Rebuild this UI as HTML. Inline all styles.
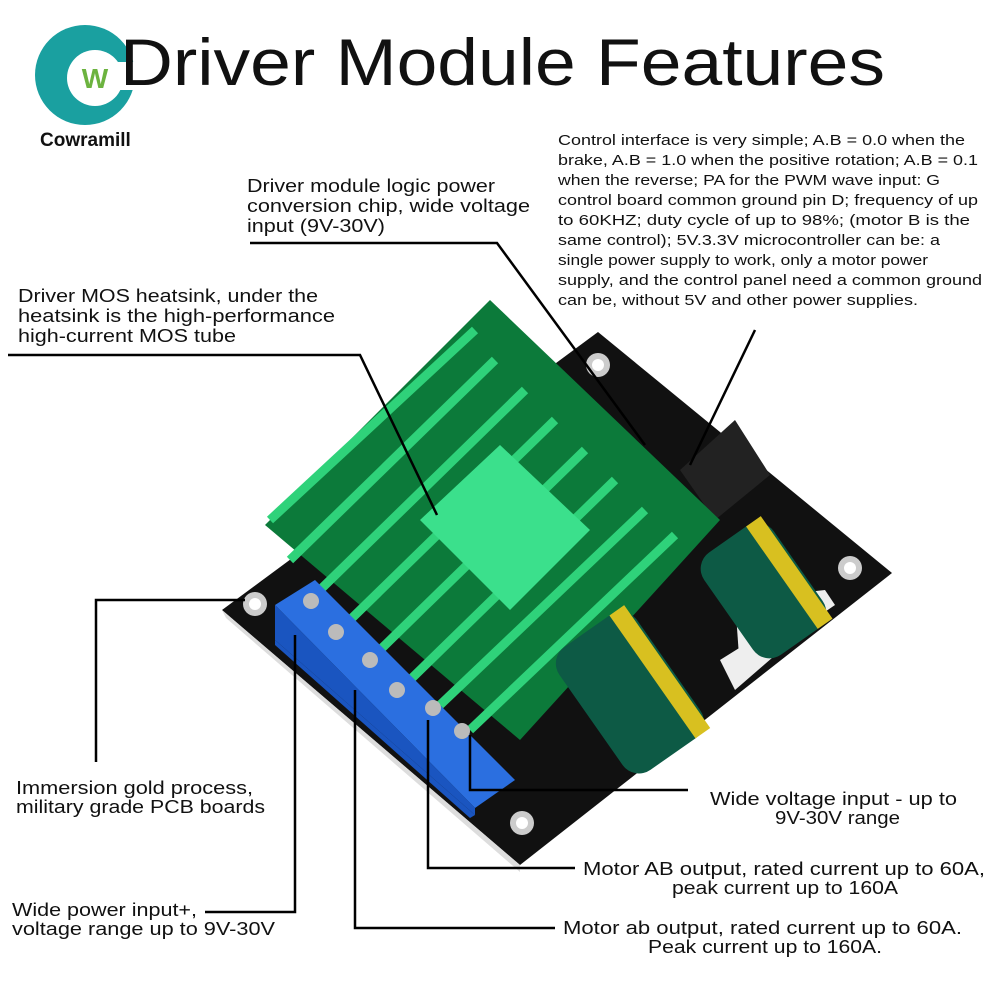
<!DOCTYPE html>
<html><head><meta charset="utf-8"><style>
html,body{margin:0;padding:0;background:#fff;}
svg{display:block}
text{font-family:"Liberation Sans",sans-serif;fill:#111}
</style></head><body>
<svg width="1000" height="1000" viewBox="0 0 1000 1000">
<!-- logo -->
<circle cx="85" cy="75" r="50" fill="#1aa0a0"/>
<circle cx="95" cy="78" r="28" fill="#fff"/>
<rect x="118" y="62" width="22" height="28" fill="#fff"/>
<text x="95" y="88" font-size="28" font-weight="bold" text-anchor="middle" style="fill:#6cb33f">W</text>
<text x="40" y="146" font-size="19" font-weight="bold">Cowramill</text>
<text x="120" y="85" font-size="66" textLength="765" lengthAdjust="spacingAndGlyphs">Driver Module Features</text>

<!-- PCB -->
<polygon points="222,610 598,332 892,573 520,865" fill="#111"/>
<polygon points="222,610 520,865 520,872 226,618" fill="#ddd"/>
<circle cx="255" cy="604" r="12" fill="#ccc"/><circle cx="255" cy="604" r="6" fill="#fff"/>
<circle cx="598" cy="365" r="12" fill="#ccc"/><circle cx="598" cy="365" r="6" fill="#fff"/>
<circle cx="850" cy="568" r="12" fill="#ccc"/><circle cx="850" cy="568" r="6" fill="#fff"/>
<circle cx="522" cy="823" r="12" fill="#ccc"/><circle cx="522" cy="823" r="6" fill="#fff"/>
<polygon points="735,600 825,590 835,605 740,670" fill="#eee"/>
<polygon points="720,660 800,610 810,625 735,690" fill="#eee"/>
<polygon points="680,470 735,420 770,475 715,520" fill="#222"/>
<!-- heatsink -->
<polygon points="265,525 490,300 720,520 520,740" fill="#0c7a3a"/>
<g stroke="#2fd27a" stroke-width="9">
<line x1="290" y1="560" x2="495" y2="360"/>
<line x1="320" y1="590" x2="525" y2="390"/>
<line x1="350" y1="620" x2="555" y2="420"/>
<line x1="380" y1="650" x2="585" y2="450"/>
<line x1="410" y1="680" x2="615" y2="480"/>
<line x1="440" y1="705" x2="645" y2="510"/>
<line x1="470" y1="730" x2="675" y2="535"/>
<line x1="270" y1="520" x2="475" y2="330"/>
</g>
<polygon points="420,520 500,445 590,530 510,610" fill="#3be08c"/>
<!-- capacitors -->
<g transform="rotate(-35 625 690)"><rect x="580" y="620" width="95" height="150" rx="20" fill="#0d5a45"/><rect x="655" y="620" width="18" height="150" fill="#d8c020"/></g>
<g transform="rotate(-35 760 590)"><rect x="720" y="530" width="85" height="125" rx="20" fill="#0d5a45"/><rect x="785" y="530" width="18" height="125" fill="#d8c020"/></g>
<!-- terminal block -->
<polygon points="275,605 315,580 515,780 475,808" fill="#2b6fe0"/>
<polygon points="275,605 475,808 475,815 275,640" fill="#1a55c0"/>
<polygon points="275,640 475,815 470,818 275,645" fill="#1a55c0"/>
<g fill="#bbb"><circle cx="311" cy="601" r="8"/><circle cx="336" cy="632" r="8"/><circle cx="370" cy="660" r="8"/><circle cx="397" cy="690" r="8"/><circle cx="433" cy="708" r="8"/><circle cx="462" cy="731" r="8"/></g>

<!-- connectors -->
<g stroke="#000" stroke-width="2.5" fill="none">
<polyline points="8,355 360,355 437,515"/>
<polyline points="250,243 497,243 645,445"/>
<line x1="755" y1="330" x2="690" y2="465"/>
<polyline points="96,762 96,600 245,600"/>
<polyline points="205,912 295,912 295,635"/>
<polyline points="555,928 355,928 355,690"/>
<polyline points="575,868 428,868 428,720"/>
<polyline points="688,790 470,790 470,735"/>
</g>

<!-- labels -->
<g font-size="18">
<text x="247" y="192" textLength="248" lengthAdjust="spacingAndGlyphs">Driver module logic power</text>
<text x="247" y="212" textLength="283" lengthAdjust="spacingAndGlyphs">conversion chip, wide voltage</text>
<text x="247" y="232" textLength="138" lengthAdjust="spacingAndGlyphs">input (9V-30V)</text>
<text x="18" y="302" textLength="300" lengthAdjust="spacingAndGlyphs">Driver MOS heatsink, under the</text>
<text x="18" y="322" textLength="317" lengthAdjust="spacingAndGlyphs">heatsink is the high-performance</text>
<text x="18" y="342" textLength="218" lengthAdjust="spacingAndGlyphs">high-current MOS tube</text>
<text x="16" y="794" textLength="237" lengthAdjust="spacingAndGlyphs">Immersion gold process,</text>
<text x="16" y="813" textLength="249" lengthAdjust="spacingAndGlyphs">military grade PCB boards</text>
<text x="12" y="916" textLength="185" lengthAdjust="spacingAndGlyphs">Wide power input+,</text>
<text x="12" y="935" textLength="263" lengthAdjust="spacingAndGlyphs">voltage range up to 9V-30V</text>
<text x="710" y="805" textLength="247" lengthAdjust="spacingAndGlyphs">Wide voltage input - up to</text>
<text x="775" y="824" textLength="125" lengthAdjust="spacingAndGlyphs">9V-30V range</text>
<text x="583" y="875" textLength="402" lengthAdjust="spacingAndGlyphs">Motor AB output, rated current up to 60A,</text>
<text x="672" y="894" textLength="226" lengthAdjust="spacingAndGlyphs">peak current up to 160A</text>
<text x="563" y="934" textLength="399" lengthAdjust="spacingAndGlyphs">Motor ab output, rated current up to 60A.</text>
<text x="648" y="953" textLength="234" lengthAdjust="spacingAndGlyphs">Peak current up to 160A.</text>
</g>
<g font-size="14.5">
<text x="558" y="145" textLength="407" lengthAdjust="spacingAndGlyphs">Control interface is very simple; A.B = 0.0 when the</text>
<text x="558" y="165" textLength="420" lengthAdjust="spacingAndGlyphs">brake, A.B = 1.0 when the positive rotation; A.B = 0.1</text>
<text x="558" y="185" textLength="382" lengthAdjust="spacingAndGlyphs">when the reverse; PA for the PWM wave input: G</text>
<text x="558" y="205" textLength="420" lengthAdjust="spacingAndGlyphs">control board common ground pin D; frequency of up</text>
<text x="558" y="225" textLength="412" lengthAdjust="spacingAndGlyphs">to 60KHZ; duty cycle of up to 98%; (motor B is the</text>
<text x="558" y="245" textLength="382" lengthAdjust="spacingAndGlyphs">same control); 5V.3.3V microcontroller can be: a</text>
<text x="558" y="265" textLength="370" lengthAdjust="spacingAndGlyphs">single power supply to work, only a motor power</text>
<text x="558" y="285" textLength="424" lengthAdjust="spacingAndGlyphs">supply, and the control panel need a common ground</text>
<text x="558" y="305" textLength="360" lengthAdjust="spacingAndGlyphs">can be, without 5V and other power supplies.</text>
</g>
</svg>
</body></html>
